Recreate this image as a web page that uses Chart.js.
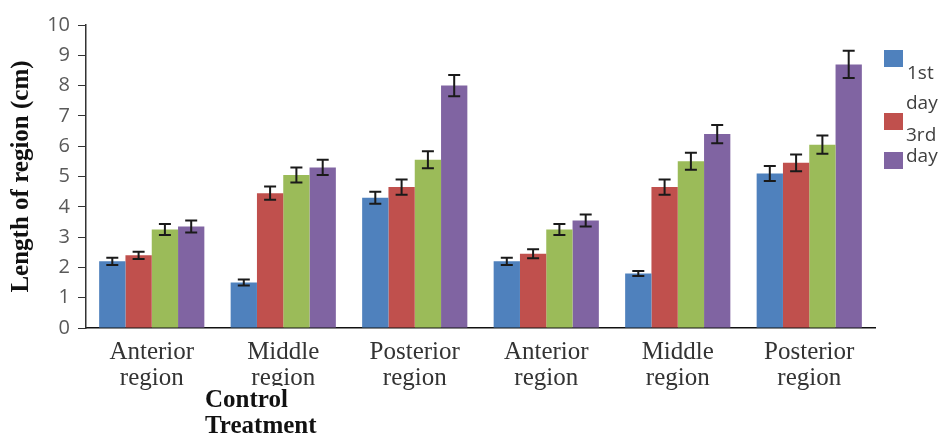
<!DOCTYPE html>
<html>
<head>
<meta charset="utf-8">
<script src="https://cdn.jsdelivr.net/npm/chart.js@4"></script>
<style>
  html, body { margin: 0; padding: 0; background: #fff; }
  #wrap { position: relative; width: 945px; height: 436px; overflow: hidden; }
  canvas { position: absolute; left: 0; top: 0; }
  .lg-box { position: absolute; width: 19px; height: 17px; }
  .lg-txt { position: absolute; font-family: 'Open Sans', sans-serif; font-size: 19px; line-height: 19px; color: #404040; white-space: nowrap; }
  #group { position: absolute; left: 205px; top: 386px; background: #fff; font-family: 'Liberation Serif', serif; font-weight: bold; font-size: 25px; line-height: 26px; color: #111; padding-right: 4px; }
</style>
</head>
<body>
<div id="wrap">
  <canvas id="c" width="945" height="436"></canvas>
  <div class="lg-box" style="left:884px;top:50px;background:#4F81BD"></div>
  <div class="lg-txt" style="left:907px;top:63px">1st</div>
  <div class="lg-txt" style="left:906px;top:93px">day</div>
  <div class="lg-box" style="left:884px;top:113px;background:#C0504D"></div>
  <div class="lg-txt" style="left:906px;top:125px">3rd</div>
  <div class="lg-box" style="left:884px;top:152px;background:#8064A2"></div>
  <div class="lg-txt" style="left:906px;top:146px">day</div>
  <div id="group">Control<br>Treatment</div>
</div>
<script>
// Regions along the body, control group first then treatment group
const categories = [
  ['Anterior', 'region'], ['Middle', 'region'], ['Posterior', 'region'],
  ['Anterior', 'region'], ['Middle', 'region'], ['Posterior', 'region']
];
const seriesNames = ['1st day', '3rd day', '5th day', '7th day'];

// Mean length of each region (cm)
const day1 = [2.2, 1.5, 4.3, 2.2, 1.8, 5.1];
const day3 = [2.4, 4.45, 4.65, 2.45, 4.65, 5.45];
const day5 = [3.25, 5.05, 5.55, 3.25, 5.5, 6.05];
const day7 = [3.35, 5.3, 8.0, 3.55, 6.4, 8.7];

// Standard error for each mean
const err1 = [0.12, 0.1, 0.2, 0.12, 0.08, 0.25];
const err3 = [0.12, 0.22, 0.25, 0.15, 0.25, 0.28];
const err5 = [0.18, 0.25, 0.28, 0.18, 0.28, 0.3];
const err7 = [0.2, 0.25, 0.35, 0.2, 0.3, 0.45];

const yTicks = [0, 1, 2, 3, 4, 5, 6, 7, 8, 9, 10];

const colors = ['#4F81BD', '#C0504D', '#9BBB59', '#8064A2'];
const values = [day1, day3, day5, day7];
const errors = [err1, err3, err5, err7];

// Draws an I-shaped error bar on top of every bar
const errorBars = {
  id: 'errorBars',
  afterDatasetsDraw(chart) {
    const ctx = chart.ctx;
    const y = chart.scales.y;
    ctx.save();
    ctx.strokeStyle = '#1a1a1a';
    ctx.lineWidth = 2;
    chart.data.datasets.forEach((ds, i) => {
      const meta = chart.getDatasetMeta(i);
      meta.data.forEach((bar, j) => {
        const v = ds.data[j];
        const e = ds.errors[j];
        const yTop = y.getPixelForValue(v + e);
        const yBot = y.getPixelForValue(v - e);
        const half = 6;
        ctx.beginPath();
        ctx.moveTo(bar.x, yTop); ctx.lineTo(bar.x, yBot);
        ctx.moveTo(bar.x - half, yTop); ctx.lineTo(bar.x + half, yTop);
        ctx.moveTo(bar.x - half, yBot); ctx.lineTo(bar.x + half, yBot);
        ctx.stroke();
      });
    });
    ctx.restore();
  }
};

new Chart(document.getElementById('c'), {
  type: 'bar',
  data: {
    labels: categories,
    datasets: seriesNames.map((name, i) => ({
      label: name,
      data: values[i],
      errors: errors[i],
      backgroundColor: colors[i],
      borderWidth: 0,
      categoryPercentage: 0.8,
      barPercentage: 1.0
    }))
  },
  options: {
    responsive: false,
    animation: false,
    layout: { padding: { top: 25, right: 70, left: 0, bottom: 0 } },
    plugins: { legend: { display: false }, tooltip: { enabled: false } },
    scales: {
      x: {
        afterFit: s => { s.height = 108; },
        grid: { display: false, drawTicks: false },
        border: { display: true, color: '#111', width: 1.5 },
        ticks: {
          padding: 11,
          color: '#333',
          font: { family: "'Liberation Serif', serif", size: 25, lineHeight: 1.04 },
          maxRotation: 0, autoSkip: false
        }
      },
      y: {
        min: 0, max: 10,
        afterFit: s => { s.width = 86; },
        afterBuildTicks: s => { s.ticks = yTicks.map(v => ({ value: v })); },
        grid: { drawOnChartArea: false, tickLength: 8, color: '#333' },
        border: { display: true, color: '#333', width: 1.5 },
        ticks: {
          padding: 8,
          color: '#595959',
          font: { family: "'Open Sans', sans-serif", size: 20 }
        },
        title: {
          display: true,
          text: 'Length of region (cm)',
          color: '#111',
          padding: { top: 7, bottom: 0 },
          font: { family: "'Liberation Serif', serif", size: 25, weight: 'bold', lineHeight: 1.2 }
        }
      }
    }
  },
  plugins: [errorBars]
});
</script>
</body>
</html>
